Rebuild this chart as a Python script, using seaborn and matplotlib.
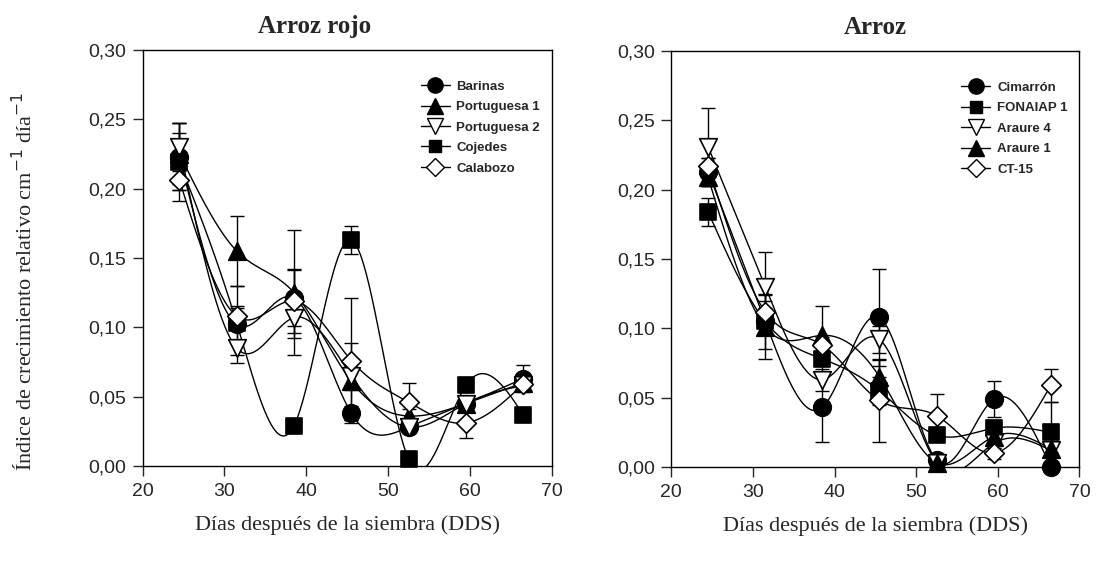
import numpy as np
import pandas as pd
import matplotlib
matplotlib.use("Agg")
import matplotlib.pyplot as plt
from matplotlib.lines import Line2D
from matplotlib.ticker import FuncFormatter
import seaborn as sns

# ---------------- data ----------------
days = [24.5, 31.5, 38.5, 45.5, 52.5, 59.5, 66.5]

# Arroz rojo
rojo_names = ["Barinas", "Portuguesa 1", "Portuguesa 2", "Cojedes", "Calabozo"]
barinas = [0.223, 0.102, 0.121, 0.038, 0.028, 0.045, 0.063]
barinas_err = [0.024, 0.028, 0.020, 0.005, 0.004, 0.005, 0.010]
portuguesa1 = [0.225, 0.155, 0.125, 0.061, 0.036, 0.045, 0.060]
portuguesa1_err = [0.022, 0.025, 0.045, 0.028, 0.005, 0.004, 0.005]
portuguesa2 = [0.230, 0.085, 0.107, 0.065, 0.028, 0.045, 0.058]
portuguesa2_err = [0.010, 0.005, 0.015, 0.010, 0.003, 0.004, 0.004]
cojedes = [0.219, 0.103, 0.029, 0.163, 0.005, 0.058, 0.037]
cojedes_err = [0.028, 0.012, 0.002, 0.010, 0.003, 0.004, 0.003]
calabozo = [0.206, 0.108, 0.119, 0.076, 0.046, 0.031, 0.059]
calabozo_err = [0.007, 0.006, 0.023, 0.045, 0.014, 0.011, 0.005]

# Arroz
arroz_names = ["Cimarrón", "FONAIAP 1", "Araure 4", "Araure 1", "CT-15"]
cimarron = [0.213, 0.105, 0.043, 0.108, 0.005, 0.049, 0.000]
cimarron_err = [0.010, 0.020, 0.025, 0.035, 0.004, 0.013, 0.002]
fonaiap1 = [0.184, 0.105, 0.078, 0.055, 0.023, 0.028, 0.025]
fonaiap1_err = [0.010, 0.010, 0.010, 0.010, 0.004, 0.004, 0.022]
araure4 = [0.231, 0.130, 0.063, 0.092, 0.003, 0.017, 0.012]
araure4_err = [0.028, 0.025, 0.008, 0.010, 0.003, 0.003, 0.003]
araure1 = [0.209, 0.101, 0.095, 0.065, 0.003, 0.022, 0.013]
araure1_err = [0.006, 0.023, 0.021, 0.012, 0.003, 0.003, 0.003]
ct15 = [0.217, 0.112, 0.088, 0.048, 0.037, 0.010, 0.059]
ct15_err = [0.006, 0.008, 0.006, 0.030, 0.016, 0.004, 0.012]

x_ticks = [20, 30, 40, 50, 60, 70]
y_ticks = [0.00, 0.05, 0.10, 0.15, 0.20, 0.25, 0.30]

# ---------------- helpers ----------------
def natural_spline(x, y, n=400):
    x = np.asarray(x, float); y = np.asarray(y, float)
    k = len(x); h = np.diff(x)
    A = np.zeros((k, k)); b = np.zeros(k)
    A[0, 0] = A[-1, -1] = 1
    for i in range(1, k - 1):
        A[i, i - 1] = h[i - 1]; A[i, i] = 2 * (h[i - 1] + h[i]); A[i, i + 1] = h[i]
        b[i] = 3 * ((y[i + 1] - y[i]) / h[i] - (y[i] - y[i - 1]) / h[i - 1])
    c = np.linalg.solve(A, b)
    xs = np.linspace(x[0], x[-1], n); ys = np.empty_like(xs)
    for j, xv in enumerate(xs):
        i = min(np.searchsorted(x, xv, side="right") - 1, k - 2)
        d = xv - x[i]
        bb = (y[i + 1] - y[i]) / h[i] - h[i] * (2 * c[i] + c[i + 1]) / 3
        dd = (c[i + 1] - c[i]) / (3 * h[i])
        ys[j] = y[i] + bb * d + c[i] * d ** 2 + dd * d ** 3
    return xs, ys

sns.set_style("ticks")
plt.rcParams["font.family"] = ["Liberation Sans", "DejaVu Sans"]

fig = plt.figure(figsize=(10.97, 5.62), dpi=100)
ax1 = fig.add_axes([0.130, 0.171, 0.373, 0.740])
ax2 = fig.add_axes([0.612, 0.169, 0.372, 0.740])

marker_style = {
    "Barinas": ("o", "black"), "Portuguesa 1": ("^", "black"),
    "Portuguesa 2": ("v", "white"), "Cojedes": ("s", "black"),
    "Calabozo": ("D", "white"),
    "Cimarrón": ("o", "black"), "FONAIAP 1": ("s", "black"),
    "Araure 4": ("v", "white"), "Araure 1": ("^", "black"),
    "CT-15": ("D", "white"),
}
msize = {"o": 160, "^": 160, "v": 160, "s": 120, "D": 100}

panels = [
    (ax1, "Arroz rojo", rojo_names,
     [barinas, portuguesa1, portuguesa2, cojedes, calabozo],
     [barinas_err, portuguesa1_err, portuguesa2_err, cojedes_err, calabozo_err]),
    (ax2, "Arroz", arroz_names,
     [cimarron, fonaiap1, araure4, araure1, ct15],
     [cimarron_err, fonaiap1_err, araure4_err, araure1_err, ct15_err]),
]

fmt = FuncFormatter(lambda v, p: f"{v:.2f}".replace(".", ","))

for ax, title, names, vals, errs in panels:
    for name, v, e in zip(names, vals, errs):
        xs, ys = natural_spline(days, v)
        ax.plot(xs, ys, color="black", lw=1.0, zorder=2)
        ax.errorbar(days, v, yerr=e, fmt="none", ecolor="black",
                    elinewidth=1.0, capsize=5, capthick=1.0, zorder=2)
    for name, v in zip(names, vals):
        m, fc = marker_style[name]
        df = pd.DataFrame({"day": days, "val": v})
        sns.scatterplot(data=df, x="day", y="val", ax=ax, marker=m, s=msize[m],
                        color=fc, edgecolor="black", linewidth=1.2, zorder=3,
                        clip_on=False)
    ax.set_xlim(20, 70)
    ax.set_ylim(0, 0.30)
    ax.set_xticks(x_ticks)
    ax.set_yticks(y_ticks)
    ax.yaxis.set_major_formatter(fmt)
    ax.tick_params(direction="out", length=7, width=1.0, labelsize=14, pad=5)
    for s in ax.spines.values():
        s.set_visible(True); s.set_linewidth(1.0); s.set_color("black")
    ax.set_xlabel("Días después de la siembra (DDS)", family="Liberation Serif",
                  fontsize=16, labelpad=11)
    ax.set_ylabel("")
    ax.set_title(title, family="Liberation Serif", fontweight="bold",
                 fontsize=18, pad=12)
    handles = []
    for name in names:
        m, fc = marker_style[name]
        handles.append(Line2D([0], [0], color="black", lw=1.0, marker=m,
                              markersize=11 if m in "o^v" else 9,
                              markerfacecolor=fc, markeredgecolor="black"))
    ax.legend(handles, names, loc="upper right", frameon=False,
              handlelength=2.2, labelspacing=0.62, handletextpad=0.5,
              bbox_to_anchor=(1.0, 0.955), prop={"weight": "bold", "size": 9.5})

ax1.set_title("Arroz rojo", family="Liberation Serif", fontweight="bold",
              fontsize=18, pad=12, x=0.42)

fig.text(0.022, 0.50, "Índice de crecimiento relativo cm$^{-1}$ día$^{-1}$",
         rotation=90, va="center", ha="center", family="Liberation Serif",
         fontsize=16)

fig.savefig("out.png", dpi=100)
